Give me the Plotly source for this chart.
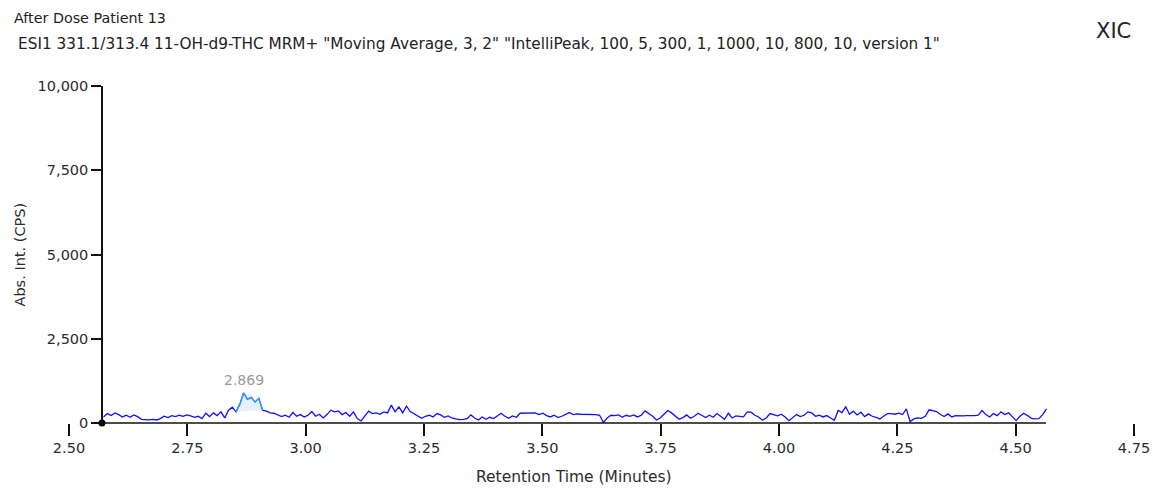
import numpy as np
import plotly.graph_objects as go

# Acquisition: first scan time and scan interval (minutes)
START_TIME = 2.573
SCAN_STEP = 0.008

# Smoothed XIC intensities (CPS), one per scan
intensity = [
    180, 280, 220, 300, 250, 180, 230, 170, 240, 190,
    110, 100, 95, 110, 90, 130, 200, 160, 220, 190,
    230, 200, 240, 210, 170, 200, 130, 290, 190, 300,
    220, 330, 150, 380,
    470, 330, 560, 890, 700, 760, 620, 730, 380, 350,
    300, 290, 230, 190, 230, 170, 310, 200, 250, 180,
    230, 340, 200, 260, 150, 250, 380, 330, 360, 250,
    310, 200, 330, 130, 60, 200, 350, 280, 300, 260,
    330, 300, 530, 330, 480, 300, 500, 340, 270, 220,
    140, 200, 230, 180, 280, 240, 170, 210, 150, 120,
    100, 110, 130, 240, 150, 90, 180, 110, 170, 130,
    200, 290, 200, 140, 210, 170, 290, 290, 280, 290,
    300, 250, 290, 220, 180, 230, 160, 200, 250, 310,
    250, 270, 260, 260, 250, 260, 250, 230, 20, 150,
    230, 220, 240, 170, 230, 200, 240, 180, 230, 360,
    290, 200, 90, 150, 260, 370, 300, 200, 110, 160,
    240, 140, 200, 290, 220, 160, 230, 170, 280, 200,
    110, 290, 150, 210, 200, 180, 330, 320, 230, 180,
    80, 150, 280, 240, 210, 260, 180, 70, 150, 250,
    190, 230, 330, 300, 200, 230, 180, 220, 150, 80,
    370, 310, 480, 260, 350, 240, 320, 190, 270, 200,
    170, 120, 200, 280, 280, 260, 290, 250, 420, 40,
    120, 150, 140, 200, 390, 370, 340, 250, 190, 270,
    180, 220, 210, 210, 220, 210, 220, 230, 370, 250,
    180, 280, 220, 330, 250, 300, 180, 70, 200, 290,
    220, 140, 120, 130, 250, 420,
]

# Integrated peak: scan index range and reported apex time
PEAK_FIRST, PEAK_LAST = 35, 42
PEAK_RT = 2.869

# Axis definitions
X_TICKS = [2.50, 2.75, 3.00, 3.25, 3.50, 3.75, 4.00, 4.25, 4.50, 4.75]
Y_TICKS = [0, 2500, 5000, 7500, 10000]
X_RANGE = [2.50, 4.75]
Y_RANGE = [0, 10000]
AXIS_ORIGIN = 2.5697   # retention time where the intensity axis sits
TRACE_END = 4.564

TITLE = "After Dose Patient 13"
SUBTITLE = ('ESI1 331.1/313.4 11-OH-d9-THC MRM+ "Moving Average, 3, 2" '
            '"IntelliPeak, 100, 5, 300, 1, 1000, 10, 800, 10, version 1"')

times = START_TIME + SCAN_STEP * np.arange(len(intensity))
vals = np.array(intensity, dtype=float)

W, H = 1153, 489
FONT = "DejaVu Sans, Open Sans, sans-serif"
X_DOM = [69 / W, 1134 / W]
Y_DOM = [(H - 423) / H, (H - 86) / H]
Y_POS = X_DOM[0] + (AXIS_ORIGIN - X_RANGE[0]) / (X_RANGE[1] - X_RANGE[0]) * (X_DOM[1] - X_DOM[0])

fig = go.Figure()

# full chromatogram
fig.add_trace(go.Scatter(
    x=times, y=vals, mode="lines",
    line=dict(color="#1010ff", width=1.3),
    hoverinfo="skip", showlegend=False,
))

# integrated peak: baseline chord, then shaded peak above it
pk = slice(PEAK_FIRST, PEAK_LAST + 1)
fig.add_trace(go.Scatter(
    x=[times[PEAK_FIRST], times[PEAK_LAST]],
    y=[vals[PEAK_FIRST], vals[PEAK_LAST]],
    mode="lines", line=dict(width=0, color="rgba(0,0,0,0)"),
    hoverinfo="skip", showlegend=False,
))
fig.add_trace(go.Scatter(
    x=times[pk], y=vals[pk], mode="lines",
    line=dict(color="#2a9df4", width=1.3),
    fill="tonexty", fillcolor="rgba(200,225,250,0.45)",
    hoverinfo="skip", showlegend=False,
))

# origin marker
fig.add_trace(go.Scatter(
    x=[AXIS_ORIGIN], y=[0], mode="markers",
    marker=dict(color="black", size=7),
    cliponaxis=False, hoverinfo="skip", showlegend=False,
))

TICK_FONT = dict(family=FONT, size=14.5, color="#2b2b2b")

fig.update_layout(
    width=W, height=H,
    margin=dict(l=0, r=0, t=0, b=0, autoexpand=False),
    paper_bgcolor="white", plot_bgcolor="white",
    font=dict(family=FONT, size=14, color="#2b2b2b"),
    xaxis=dict(
        domain=X_DOM, range=X_RANGE, anchor="y", automargin=False,
        showline=False, showgrid=False, zeroline=False,
        ticks="outside", ticklen=12, tickwidth=1.5, tickcolor="#111111",
        tickvals=X_TICKS, ticktext=[f"{v:.2f}" for v in X_TICKS],
        tickfont=TICK_FONT,
    ),
    yaxis=dict(
        domain=Y_DOM, range=Y_RANGE, anchor="free", position=Y_POS,
        automargin=False,
        showline=True, linecolor="#111111", linewidth=1.5,
        showgrid=False, zeroline=False,
        ticks="outside", ticklen=10, tickwidth=1.5, tickcolor="#111111",
        tickvals=Y_TICKS, tickformat=",",
        tickfont=TICK_FONT,
    ),
    shapes=[dict(
        type="line", xref="x", yref="paper",
        x0=AXIS_ORIGIN, x1=TRACE_END, y0=Y_DOM[0], y1=Y_DOM[0],
        line=dict(color="#111111", width=1.5),
    )],
    annotations=[
        dict(text=TITLE, xref="paper", yref="paper", x=12 / W, y=1 - 18 / H,
             xanchor="left", yanchor="middle", showarrow=False,
             font=dict(size=14.3, color="#222222")),
        dict(text=SUBTITLE, xref="paper", yref="paper", x=16 / W, y=1 - 44 / H,
             xanchor="left", yanchor="middle", showarrow=False,
             font=dict(size=15.3, color="#222222")),
        dict(text="XIC", xref="paper", yref="paper", x=1113 / W, y=1 - 31 / H,
             xanchor="center", yanchor="middle", showarrow=False,
             font=dict(size=21, color="#222222")),
        dict(text="Abs. Int. (CPS)", xref="paper", yref="paper",
             x=20 / W, y=(Y_DOM[0] + Y_DOM[1]) / 2, textangle=-90,
             xanchor="center", yanchor="middle", showarrow=False,
             font=dict(size=14.5, color="#2b2b2b")),
        dict(text="Retention Time (Minutes)", xref="x", yref="paper",
             x=(AXIS_ORIGIN + TRACE_END) / 2, y=1 - 477 / H,
             xanchor="center", yanchor="middle", showarrow=False,
             font=dict(size=15.5, color="#2b2b2b")),
        dict(text=f"{PEAK_RT:.3f}", xref="x", yref="y",
             x=PEAK_RT, y=max(intensity), yshift=3,
             xanchor="center", yanchor="bottom", showarrow=False,
             font=dict(size=14, color="#9a9a9a")),
    ],
)

fig.write_html("out.html")
